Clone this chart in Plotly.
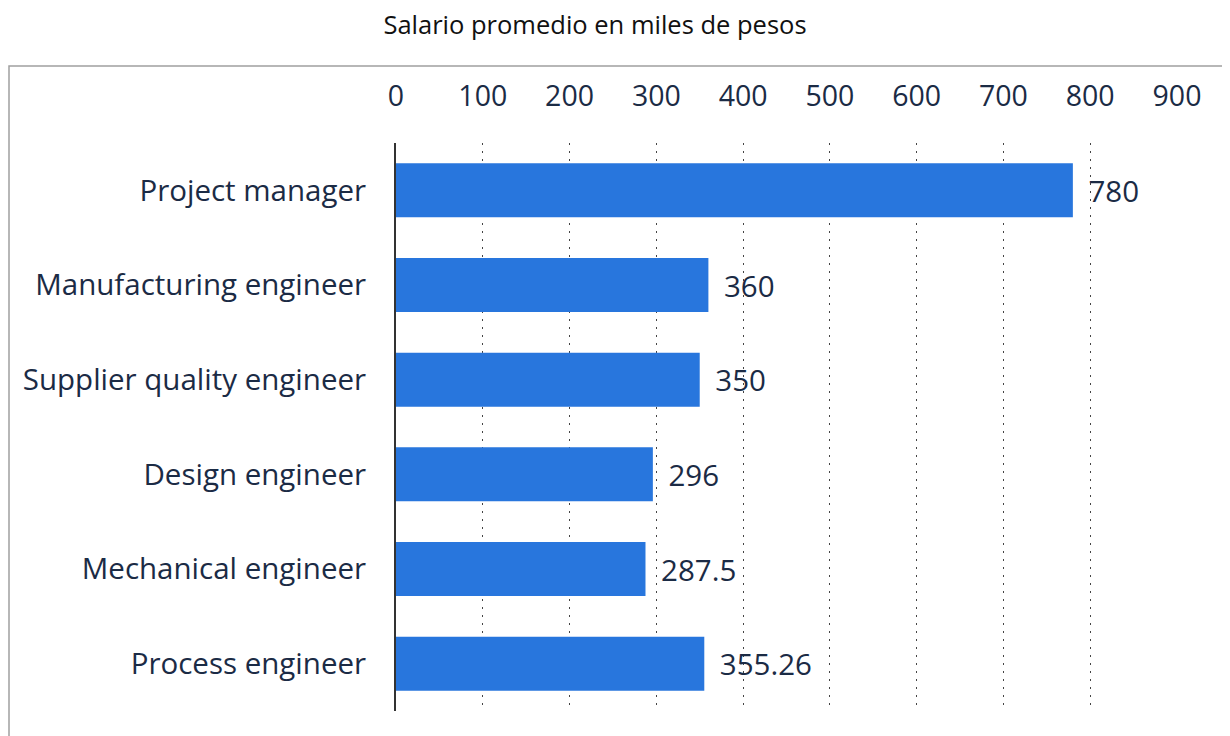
import plotly.graph_objects as go

# categories listed top to bottom as in the chart
roles    = ['Project manager', 'Manufacturing engineer', 'Supplier quality engineer',
            'Design engineer', 'Mechanical engineer', 'Process engineer']
salaries = [780, 360, 350, 296, 287.5, 355.26]
labels   = ['780', '360', '350', '296', '287.5', '355.26']
ticks    = [0, 100, 200, 300, 400, 500, 600, 700, 800, 900]

# the page body adds an 8px offset, so the figure is laid out 8px up/left
OFF = 8
W, H = 1230, 736
left, right, top, bottom = 396 - OFF, 53 + OFF, 143 - OFF, 25 + OFF
pw = W - left - right
ph = H - top - bottom

fig = go.Figure(go.Bar(x            = salaries,
                       y            = roles,
                       orientation  = 'h',
                       marker       = dict(color = '#2876dd', line = dict(width = 0)),
                       text         = labels,
                       texttemplate = ' \u2009%{text}',
                       textposition = 'outside',
                       cliponaxis   = False,
                       textfont     = dict(size = 29.5, color = '#1b2b45')))

# light grey frame around the chart body
fig.add_shape(type = 'rect', xref = 'paper', yref = 'paper',
              x0 = (1 - left) / pw, x1 = (W + 20 - left) / pw,
              y0 = -(bottom + 20) / ph, y1 = 1 + (top - (66 - OFF)) / ph,
              line = dict(color = '#a0a0a0', width = 1.5), layer = 'below')

fig.update_layout(width         = W,
                  height        = H,
                  margin        = dict(l = left, r = right, t = top, b = bottom, autoexpand = False),
                  paper_bgcolor = 'white',
                  plot_bgcolor  = 'white',
                  bargap        = 0.43,
                  showlegend    = False,
                  font          = dict(family = 'Open Sans', color = '#1b2b45'),
                  title         = dict(text    = 'Salario promedio en miles de pesos',
                                       xref    = 'container', x = (595 - OFF) / W, xanchor = 'center',
                                       yref    = 'container', y = 1 - (25 - OFF) / H, yanchor = 'middle',
                                       font    = dict(size = 25.5, color = '#111111')))

fig.update_xaxes(side              = 'top',
                 range             = [0, 900],
                 tickvals          = ticks,
                 ticks             = '',
                 automargin        = False,
                 ticklabelstandoff = 30,
                 tickfont          = dict(size = 28.5, color = '#1b2b45'),
                 showgrid          = True,
                 gridcolor         = '#444444',
                 gridwidth         = 1,
                 griddash          = '2px,6px',
                 zeroline          = False,
                 showline          = False)

fig.update_yaxes(autorange         = 'reversed',
                 ticks             = '',
                 automargin        = False,
                 ticklabelstandoff = 22,
                 tickfont          = dict(size = 29.5, color = '#1b2b45'),
                 showline          = True,
                 linecolor         = '#333333',
                 linewidth         = 2,
                 showgrid          = False)

fig.write_html("out.html")
